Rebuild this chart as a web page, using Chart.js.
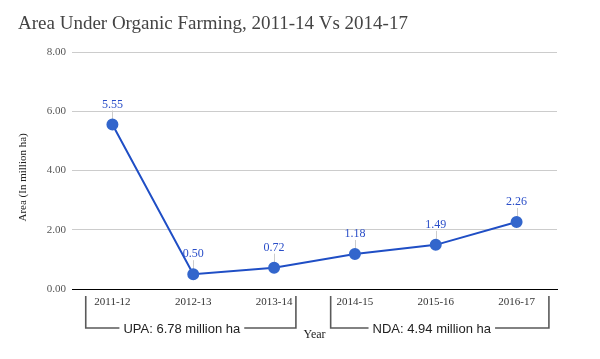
<!DOCTYPE html>
<html><head><meta charset="utf-8">
<script src="https://cdn.jsdelivr.net/npm/chart.js@4"></script>
<style>html,body{margin:0;padding:0;background:#fff}#wrap{width:600px;height:359px}</style>
</head><body><div id="wrap"><canvas id="c" width="600" height="359"></canvas></div>
<script>
const categories = ['2011-12', '2012-13', '2013-14', '2014-15', '2015-16', '2016-17'];
const areaValues = [5.55, 0.50, 0.72, 1.18, 1.49, 2.26];
const yTickValues = [0, 2, 4, 6, 8];
const groupLabels = ['UPA: 6.78 million ha', 'NDA: 4.94 million ha'];
const groupStart = [0, 3];
const groupEnd = [2, 5];

const SERIF = '"Liberation Serif", "Times New Roman", serif';
const SANS = '"Liberation Sans", Arial, Helvetica, sans-serif';

const pointLabels = {
  id: 'pointLabels',
  beforeDatasetsDraw(chart) {
    const ctx = chart.ctx;
    const meta = chart.getDatasetMeta(0);
    ctx.save();
    ctx.strokeStyle = '#cccccc';
    ctx.lineWidth = 1;
    meta.data.forEach(pt => {
      ctx.beginPath();
      ctx.moveTo(Math.round(pt.x) + 0.5, pt.y - 14);
      ctx.lineTo(Math.round(pt.x) + 0.5, pt.y);
      ctx.stroke();
    });
    ctx.restore();
  },
  afterDatasetsDraw(chart) {
    const ctx = chart.ctx;
    const meta = chart.getDatasetMeta(0);
    const vals = chart.data.datasets[0].data;
    ctx.save();
    ctx.font = '12px ' + SERIF;
    ctx.fillStyle = '#2a4ec8';
    ctx.textAlign = 'center';
    ctx.textBaseline = 'middle';
    meta.data.forEach((pt, i) => {
      ctx.fillText(Number(vals[i]).toFixed(2), pt.x, pt.y - 20);
    });
    ctx.restore();
  }
};

const groupBrackets = {
  id: 'groupBrackets',
  afterDraw(chart, args, opts) {
    const ctx = chart.ctx;
    const xs = chart.scales.x;
    const step = xs.getPixelForValue(1) - xs.getPixelForValue(0);
    const top = chart.chartArea.bottom + opts.topGap;
    const lineY = chart.chartArea.bottom + opts.lineGap;
    ctx.save();
    ctx.strokeStyle = '#5a5a5a';
    ctx.lineWidth = 1.6;
    ctx.font = '13px ' + SANS;
    ctx.fillStyle = '#222222';
    ctx.textAlign = 'center';
    ctx.textBaseline = 'middle';
    groupLabels.forEach((label, g) => {
      const o = opts.groups[g];
      const left = xs.getPixelForValue(groupStart[g]) + o.l * step;
      const right = xs.getPixelForValue(groupEnd[g]) + o.r * step;
      const cx = (left + right) / 2 + o.t;
      const tw = ctx.measureText(label).width;
      ctx.beginPath();
      ctx.moveTo(left, top);
      ctx.lineTo(left, lineY);
      ctx.lineTo(cx - tw / 2 - 4, lineY);
      ctx.moveTo(cx + tw / 2 + 4, lineY);
      ctx.lineTo(right, lineY);
      ctx.lineTo(right, top);
      ctx.stroke();
      ctx.fillText(label, cx, lineY + 1);
    });
    ctx.restore();
  }
};

new Chart(document.getElementById('c'), {
  type: 'line',
  data: {
    labels: categories,
    datasets: [{
      data: areaValues,
      borderColor: '#1f4ec5',
      backgroundColor: '#3366cc',
      pointBackgroundColor: '#3366cc',
      pointBorderColor: '#3366cc',
      borderWidth: 2,
      pointRadius: 5,
      tension: 0,
      fill: false
    }]
  },
  options: {
    responsive: false,
    animation: false,
    devicePixelRatio: 1,
    layout: { padding: { left: 18, right: 43, top: 0, bottom: 0 } },
    plugins: {
      legend: { display: false },
      tooltip: { enabled: false },
      title: {
        display: true,
        text: 'Area Under Organic Farming, 2011-14 Vs 2014-17',
        align: 'start',
        color: '#444444',
        font: { family: SERIF, size: 19, weight: 'normal', lineHeight: 1.2 },
        padding: { top: 13, bottom: 16.2 }
      },
      groupBrackets: {
        topGap: 7, lineGap: 39,
        groups: [{ l: -0.33, r: 0.27, t: -9 }, { l: -0.30, r: 0.40, t: -8 }]
      }
    },
    scales: {
      x: {
        offset: true,
        grid: { display: false, drawTicks: false },
        border: { display: true, color: '#000000', width: 1 },
        ticks: { color: '#333333', font: { family: SERIF, size: 11 }, padding: 7, maxRotation: 0, autoSkip: false },
        title: { display: true, text: 'Year', color: '#222222', font: { family: SERIF, size: 12, lineHeight: 1.2 }, padding: { top: 0, bottom: 17 } },
        afterFit(scale) { scale.height = 70; }
      },
      y: {
        min: 0, max: 8,
        afterBuildTicks(scale) { scale.ticks = yTickValues.map(v => ({ value: v })); },
        grid: { color: '#cccccc', drawTicks: false, lineWidth: 1 },
        border: { display: false },
        ticks: { color: '#555555', font: { family: SERIF, size: 11 }, padding: 6, callback: v => Number(v).toFixed(2) },
        title: { display: true, text: 'Area (In million ha)\u00a0\u00a0\u00a0\u00a0\u00a0', color: '#222222', font: { family: SERIF, size: 11, lineHeight: 1 }, padding: { top: 0, bottom: 0 } },
        afterFit(scale) { scale.width = 54; }
      }
    }
  },
  plugins: [pointLabels, groupBrackets]
});
</script>
</body></html>
